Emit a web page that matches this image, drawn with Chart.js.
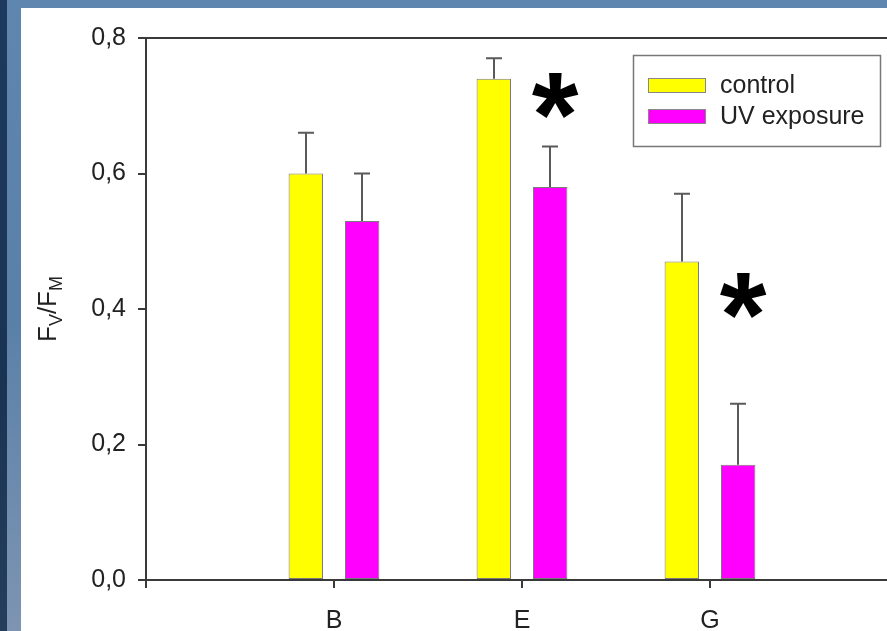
<!DOCTYPE html>
<html>
<head>
<meta charset="utf-8">
<script src="https://cdn.jsdelivr.net/npm/chart.js@4.4.1/dist/chart.umd.min.js"></script>
<style>
  html, body { margin: 0; padding: 0; width: 887px; height: 631px; overflow: hidden; }
  body {
    background: linear-gradient(180deg, #5f86ae 0%, #5a80a8 50%, #7d94b2 100%);
    position: relative;
  }
  #edge {
    position: absolute; left: 0; top: 0; width: 7px; height: 631px;
    background: linear-gradient(180deg, #1d3a5e 0%, #1a3353 60%, #243e5c 100%);
  }
  #panel {
    position: absolute; left: 21px; top: 8px; width: 900px; height: 640px;
    background: #ffffff;
  }
  #wrap { position: absolute; left: 0; top: 0; width: 916px; height: 631px; }
</style>
</head>
<body>
<div id="edge"></div>
<div id="panel"></div>
<div id="wrap"><canvas id="chart" width="916" height="631"></canvas></div>
<script>
// Leaf groups on the x axis (blank slots keep the left/right margins of the frame)
const categories = ['', 'B', 'E', 'G', ''];
// Fv/Fm means and standard deviations
const controlValues = [null, 0.60, 0.74, 0.47, null];
const controlErrors = [null, 0.06, 0.03, 0.10, null];
const uvValues = [null, 0.53, 0.58, 0.17, null];
const uvErrors = [null, 0.07, 0.06, 0.09, null];
// Significance marks per group
const significance = ['', '', '*', '*', ''];
// Y axis ticks
const yTicks = [0, 0.2, 0.4, 0.6, 0.8];

const FONT = "'Liberation Sans', Arial, sans-serif";
const TEXT = '#222222';
const AXIS = '#3a3a3a';

// Error bars (upper whisker with a cap) for every bar
const errorBars = {
  id: 'errorBars',
  afterDatasetsDraw(chart) {
    const { ctx } = chart;
    const y = chart.scales.y;
    const errs = [controlErrors, uvErrors];
    ctx.save();
    ctx.strokeStyle = '#5a5a5a';
    ctx.lineWidth = 2;
    chart.data.datasets.forEach((ds, di) => {
      const meta = chart.getDatasetMeta(di);
      meta.data.forEach((bar, i) => {
        const v = ds.data[i], e = errs[di][i];
        if (v == null || e == null) return;
        const x = Math.round(bar.x);
        const yTop = y.getPixelForValue(v + e);
        const yBar = y.getPixelForValue(v);
        ctx.beginPath();
        ctx.moveTo(x, yBar);
        ctx.lineTo(x, yTop);
        ctx.moveTo(x - 8, yTop);
        ctx.lineTo(x + 8, yTop);
        ctx.stroke();
      });
    });
    ctx.restore();
  }
};

// Asterisks marking significant differences, beside the UV bar of a group
const sigMarks = {
  id: 'sigMarks',
  afterDatasetsDraw(chart, args, opts) {
    const { ctx } = chart;
    const y = chart.scales.y;
    const meta = chart.getDatasetMeta(1);
    ctx.save();
    ctx.fillStyle = '#000';
    ctx.font = 'bold ' + opts.size + 'px ' + FONT;
    ctx.textAlign = 'center';
    ctx.textBaseline = 'alphabetic';
    significance.forEach((s, i) => {
      if (!s) return;
      const bar = meta.data[i];
      const cx = bar.x + opts.dx;
      const cy = y.getPixelForValue(opts.level[i]);
      ctx.fillText(s, cx, cy + opts.size * 0.53);
    });
    ctx.restore();
  }
};

// Frame top line, boxed legend and the Fv/Fm axis title
const decorations = {
  id: 'decorations',
  afterDraw(chart) {
    const { ctx, chartArea } = chart;
    ctx.save();
    // top edge of the frame
    ctx.strokeStyle = AXIS;
    ctx.lineWidth = 2;
    ctx.beginPath();
    ctx.moveTo(chartArea.left, chartArea.top);
    ctx.lineTo(chartArea.right, chartArea.top);
    ctx.stroke();

    // legend box
    ctx.fillStyle = '#fff';
    ctx.fillRect(633, 55, 248, 92);
    ctx.strokeStyle = '#777';
    ctx.lineWidth = 1.5;
    ctx.strokeRect(633.5, 55.5, 247, 91);
    ctx.font = '25px ' + FONT;
    ctx.textBaseline = 'alphabetic';
    ctx.textAlign = 'left';
    chart.data.datasets.forEach((ds, i) => {
      const top = 78 + i * 31;
      ctx.fillStyle = ds.backgroundColor;
      ctx.fillRect(648, top, 58, 15);
      ctx.strokeStyle = '#888';
      ctx.lineWidth = 1;
      ctx.strokeRect(648.5, top + 0.5, 57, 14);
      ctx.fillStyle = TEXT;
      ctx.fillText(ds.label, 720, top + 15);
    });

    // y axis title F_V / F_M
    ctx.translate(56, 342);
    ctx.rotate(-Math.PI / 2);
    const parts = [['F', false], ['V', true], ['/F', false], ['M', true]];
    let x = 0;
    parts.forEach(([t, sub]) => {
      ctx.font = (sub ? 18 : 26) + 'px ' + FONT;
      ctx.fillStyle = TEXT;
      ctx.fillText(t, x, sub ? 6 : 0);
      x += ctx.measureText(t).width;
    });
    ctx.restore();
  }
};

new Chart(document.getElementById('chart'), {
  type: 'bar',
  data: {
    labels: categories,
    datasets: [
      { label: 'control', data: controlValues, backgroundColor: '#ffff00',
        borderColor: '#7a7a7a', borderWidth: 1, borderSkipped: false,
        barPercentage: 0.61, categoryPercentage: 0.6 },
      { label: 'UV exposure', data: uvValues, backgroundColor: '#ff00ff',
        borderColor: '#7a7a7a', borderWidth: 1, borderSkipped: false,
        barPercentage: 0.61, categoryPercentage: 0.6 }
    ]
  },
  options: {
    responsive: false,
    animation: false,
    devicePixelRatio: 1,
    layout: { padding: { top: 38, left: 0, right: 0, bottom: 0 } },
    plugins: {
      legend: { display: false },
      tooltip: { enabled: false },
      sigMarks: { size: 120, dx: 5, level: [null, null, 0.72, 0.425, null] }
    },
    scales: {
      x: {
        offset: false,
        grid: { display: true, offset: false, drawOnChartArea: false, drawTicks: true, tickLength: 8,
                color: AXIS, lineWidth: 2 },
        border: { display: true, color: AXIS, width: 2 },
        ticks: { color: TEXT, font: { family: FONT, size: 25 }, padding: 18, maxRotation: 0,
                 autoSkip: false },
        afterFit: s => { s.height = 51; }
      },
      y: {
        min: 0, max: 0.8,
        afterBuildTicks: s => { s.ticks = yTicks.map(v => ({ value: v })); },
        grid: { display: true, drawOnChartArea: false, drawTicks: true, tickLength: 8,
                color: AXIS, lineWidth: 2 },
        border: { display: true, color: AXIS, width: 2 },
        ticks: { color: TEXT, font: { family: FONT, size: 25 }, padding: 12,
                 callback: v => Number(v).toFixed(1).replace('.', ',') },
        afterFit: s => { s.width = 146; }
      }
    }
  },
  plugins: [errorBars, sigMarks, decorations]
});
</script>
</body>
</html>
